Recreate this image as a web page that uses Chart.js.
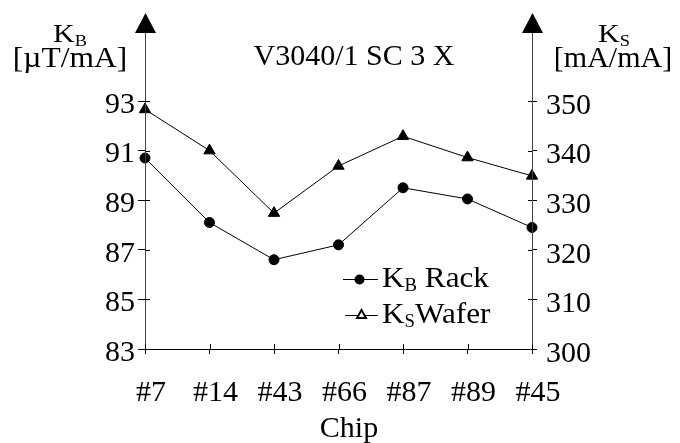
<!DOCTYPE html>
<html>
<head>
<meta charset="utf-8">
<script src="https://cdn.jsdelivr.net/npm/chart.js@4.4.0/dist/chart.umd.min.js"></script>
<style>
html,body{margin:0;padding:0;background:#fff;}
#wrap{width:680px;height:443px;position:relative;}
</style>
</head>
<body>
<div id="wrap"><canvas id="c" width="680" height="443"></canvas></div>
<script>
const categories = ['#7', '#14', '#43', '#66', '#87', '#89', '#45'];
const kbRack = [90.7, 88.1, 86.6, 87.2, 89.5, 89.05, 87.9];
const ksWafer = [348.3, 340.0, 327.4, 336.9, 342.9, 338.6, 334.9];
const leftTicks = [83, 85, 87, 89, 91, 93];
const rightTicks = [300, 310, 320, 330, 340, 350];
const titleText = 'V3040/1 SC 3 X';
const xTitle = 'Chip';

const FONT = '"Liberation Serif", "Times New Roman", serif';

// draws main text + subscript + optional rest, horizontally scaled by sx
function subText(ctx, x, y, main, sub, rest, size, subSize, align, sx) {
  sx = sx || 1;
  ctx.font = size + 'px ' + FONT;
  const wMain = ctx.measureText(main).width;
  ctx.font = subSize + 'px ' + FONT;
  const wSub = ctx.measureText(sub).width;
  ctx.font = size + 'px ' + FONT;
  const wRest = rest ? ctx.measureText(rest).width : 0;
  const total = (wMain + wSub + wRest) * sx;
  const left = align === 'center' ? x - total / 2 : x;
  ctx.save();
  ctx.translate(left, y);
  ctx.scale(sx, 1);
  ctx.textAlign = 'left';
  ctx.textBaseline = 'alphabetic';
  ctx.font = size + 'px ' + FONT;
  ctx.fillText(main, 0, 0);
  ctx.font = subSize + 'px ' + FONT;
  ctx.fillText(sub, wMain, 4);
  if (rest) {
    ctx.font = size + 'px ' + FONT;
    ctx.fillText(rest, wMain + wSub, 0);
  }
  ctx.restore();
}

function plainText(ctx, text, x, y, size, sx) {
  ctx.save();
  ctx.font = size + 'px ' + FONT;
  ctx.translate(x, y);
  ctx.scale(sx || 1, 1);
  ctx.textAlign = 'center';
  ctx.textBaseline = 'alphabetic';
  ctx.fillText(text, 0, 0);
  ctx.restore();
}

const decor = {
  id: 'decor',
  afterDraw(chart) {
    const ctx = chart.ctx;
    const ca = chart.chartArea;
    const yl = chart.scales.y, yr = chart.scales.y1, xs = chart.scales.x;
    ctx.save();
    // vertical axis lines with arrows
    const arrowTop = 13, arrowBase = 33;
    [ca.left, ca.right].forEach(ax => {
      ctx.strokeStyle = '#444';
      ctx.lineWidth = 1;
      ctx.beginPath();
      ctx.moveTo(ax + 0.5, ca.bottom);
      ctx.lineTo(ax + 0.5, arrowBase);
      ctx.stroke();
      ctx.fillStyle = '#000';
      ctx.beginPath();
      ctx.moveTo(ax + 0.5, arrowTop);
      ctx.lineTo(ax + 0.5 - 10.5, arrowBase);
      ctx.lineTo(ax + 0.5 + 10.5, arrowBase);
      ctx.closePath();
      ctx.fill();
    });
    // inner halves of ticks
    ctx.strokeStyle = '#000';
    ctx.lineWidth = 1;
    leftTicks.forEach(v => {
      const py = Math.round(yl.getPixelForValue(v)) + 0.5;
      ctx.beginPath(); ctx.moveTo(ca.left, py); ctx.lineTo(ca.left + 5, py); ctx.stroke();
    });
    rightTicks.forEach(v => {
      const py = Math.round(yr.getPixelForValue(v)) + 0.5;
      ctx.beginPath(); ctx.moveTo(ca.right - 4, py); ctx.lineTo(ca.right, py); ctx.stroke();
    });
    categories.forEach((c, i) => {
      const px = Math.round(xs.getPixelForValue(i)) + 0.5;
      ctx.beginPath(); ctx.moveTo(px, ca.bottom - 5); ctx.lineTo(px, ca.bottom); ctx.stroke();
    });
    ctx.fillStyle = '#000';
    // title
    plainText(ctx, titleText, 354, 65, 30, 1);
    // x axis title
    plainText(ctx, xTitle, 349, 437, 30, 1);
    // axis titles
    subText(ctx, 70, 42, 'K', 'B', '', 26, 16, 'center', 1.15);
    plainText(ctx, '[\u00B5T/mA]', 70, 67, 30, 1.05);
    subText(ctx, 614, 42, 'K', 'S', '', 26, 16, 'center', 1.15);
    plainText(ctx, '[mA/mA]', 613, 67, 30, 1);
    // legend
    ctx.strokeStyle = '#000'; ctx.lineWidth = 1;
    ctx.beginPath(); ctx.moveTo(343, 279.5); ctx.lineTo(378, 279.5); ctx.stroke();
    ctx.beginPath(); ctx.arc(359.5, 279.5, 5, 0, Math.PI * 2); ctx.fill();
    ctx.beginPath(); ctx.moveTo(345, 315.5); ctx.lineTo(378, 315.5); ctx.stroke();
    ctx.fillStyle = '#fff';
    ctx.lineWidth = 2;
    ctx.beginPath();
    ctx.moveTo(361.5, 310); ctx.lineTo(357, 318); ctx.lineTo(366, 318); ctx.closePath();
    ctx.fill(); ctx.stroke();
    ctx.fillStyle = '#000';
    subText(ctx, 382, 287, 'K', 'B', ' Rack', 30, 18, 'left', 1.04);
    subText(ctx, 382, 323, 'K', 'S', 'Wafer', 30, 18, 'left', 1.04);
    ctx.restore();
  }
};

new Chart(document.getElementById('c'), {
  type: 'line',
  data: {
    labels: categories,
    datasets: [
      {
        label: 'KB Rack', data: kbRack, yAxisID: 'y',
        borderColor: '#000', backgroundColor: '#000', borderWidth: 1,
        pointStyle: 'circle', pointRadius: 5, pointHoverRadius: 5, tension: 0
      },
      {
        label: 'KS Wafer', data: ksWafer, yAxisID: 'y1',
        borderColor: '#000', backgroundColor: '#000', borderWidth: 1,
        pointStyle: 'triangle', pointRadius: 6.5, pointHoverRadius: 6.5, tension: 0
      }
    ]
  },
  options: {
    responsive: false,
    animation: false,
    events: [],
    layout: { padding: { top: 101, left: 0, right: 0, bottom: 0 } },
    plugins: { legend: { display: false }, tooltip: { enabled: false }, title: { display: false } },
    scales: {
      x: {
        type: 'category', offset: false,
        grid: { display: true, drawOnChartArea: false, drawTicks: true, tickLength: 5, color: '#000' },
        border: { display: true, color: '#000', width: 1 },
        ticks: { color: '#000', font: { family: FONT, size: 30 }, padding: 21, labelOffset: 6, maxRotation: 0, autoSkip: false },
        title: { display: false },
        afterFit: s => { s.height = 94; }
      },
      y: {
        position: 'left', min: 83, max: 93,
        afterBuildTicks: s => { s.ticks = leftTicks.map(v => ({ value: v })); },
        grid: { display: true, drawOnChartArea: false, drawTicks: true, tickLength: 7, color: '#000' },
        border: { display: false },
        ticks: { color: '#000', font: { family: FONT, size: 30 }, padding: 3, labelOffset: 4 },
        afterFit: s => { s.width = 145; }
      },
      y1: {
        position: 'right', min: 300, max: 350,
        afterBuildTicks: s => { s.ticks = rightTicks.map(v => ({ value: v })); },
        grid: { display: true, drawOnChartArea: false, drawTicks: true, tickLength: 5, color: '#000' },
        border: { display: false },
        ticks: { color: '#000', font: { family: FONT, size: 30 }, padding: 9, labelOffset: 5 },
        afterFit: s => { s.width = 148; }
      }
    }
  },
  plugins: [decor]
});
</script>
</body>
</html>
